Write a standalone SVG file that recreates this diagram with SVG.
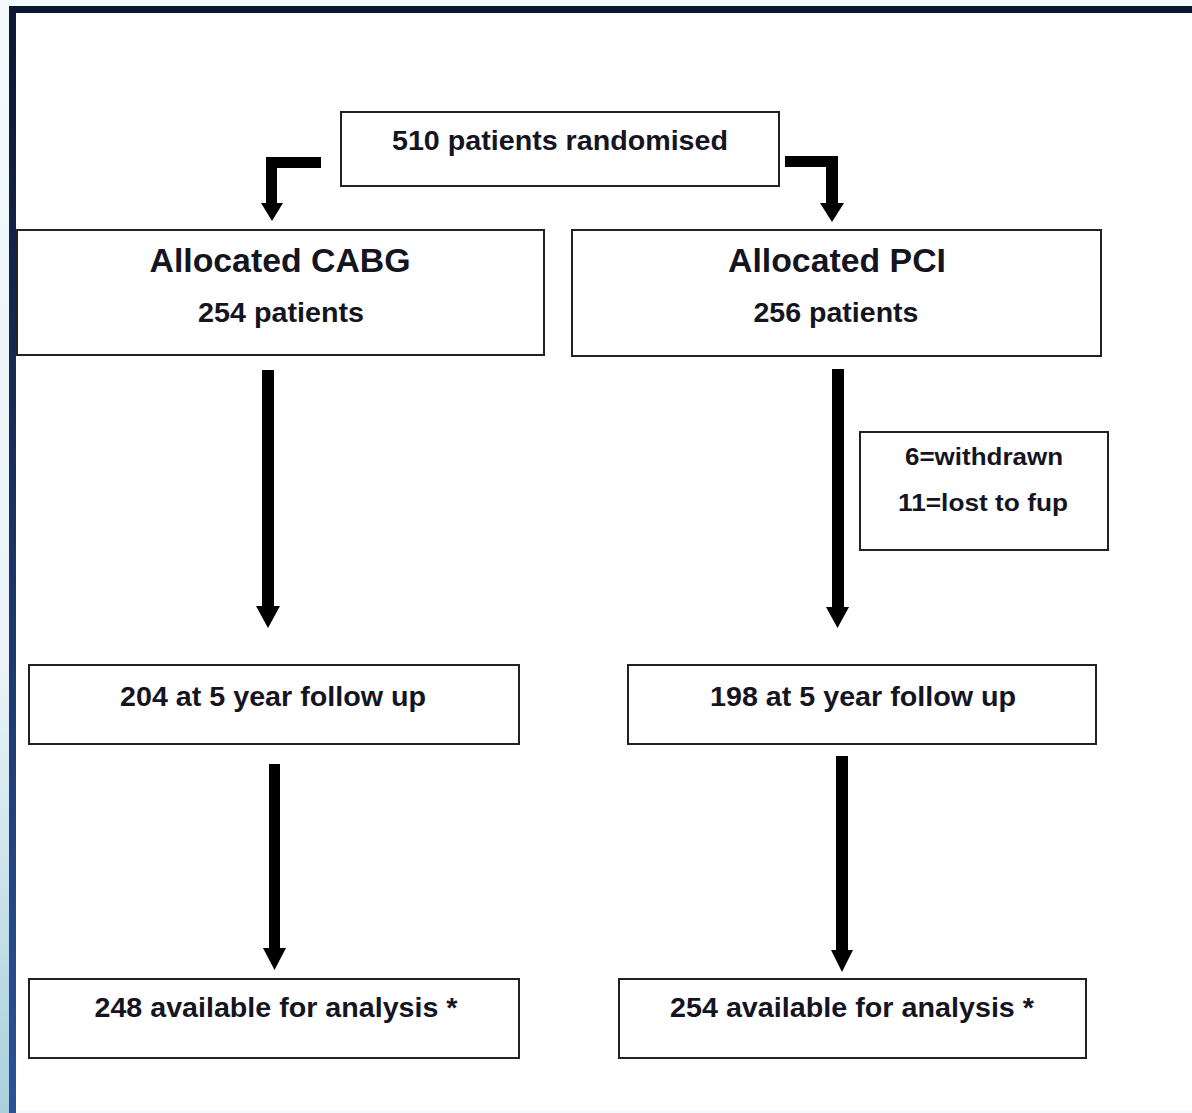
<svg xmlns="http://www.w3.org/2000/svg" width="1192" height="1113" viewBox="0 0 1192 1113">
  <defs>
    <linearGradient id="outerL" x1="0" y1="0" x2="0" y2="1">
      <stop offset="0" stop-color="#f4fafd"/>
      <stop offset="0.6" stop-color="#eaf3f8"/>
      <stop offset="1" stop-color="#a9d0dc"/>
    </linearGradient>
    <linearGradient id="edgeL" x1="0" y1="0" x2="0" y2="1">
      <stop offset="0" stop-color="#0b1733"/>
      <stop offset="0.5" stop-color="#1a3466"/>
      <stop offset="1" stop-color="#2b5299"/>
    </linearGradient>
  </defs>
  <style>
    .box { fill: #ffffff; stroke: #222222; stroke-width: 2; }
    .t { font-family: "Liberation Sans", Arial, sans-serif; font-weight: bold; fill: #15151f; text-anchor: middle; }
    .arrow { fill: #000000; stroke: none; }
  </style>

  <!-- background / frame -->
  <rect x="0" y="0" width="1192" height="1113" fill="#f4fafd"/>
  <rect x="0" y="0" width="10" height="1113" fill="url(#outerL)"/>
  <rect x="16" y="13" width="1176" height="1097" fill="#ffffff"/>
  <rect x="9" y="6" width="1183" height="7" fill="#0b1733"/>
  <rect x="9" y="6" width="7" height="1107" fill="url(#edgeL)"/>

  <g id="connectors">
    <path class="arrow" d="M321 157 L266 157 L266 203 L261 203 L272 221 L283 203 L277 203 L277 168 L321 168 Z"/>
    <path class="arrow" d="M785 156 L838 156 L838 203 L844 203 L832 222 L820 203 L826 203 L826 167 L785 167 Z"/>
    <path class="arrow" d="M262 370 L274 370 L274 606 L280 606 L268 628 L256 606 L262 606 Z"/>
    <path class="arrow" d="M832 369 L844 369 L844 607 L849 607 L837.5 628 L826 607 L832 607 Z"/>
    <path class="arrow" d="M269 764 L280 764 L280 948 L286 948 L274.5 970 L263 948 L269 948 Z"/>
    <path class="arrow" d="M836 756 L848 756 L848 950 L853 950 L842 972 L831 950 L836 950 Z"/>
  </g>

  <g id="randomised">
    <rect class="box" x="341" y="112" width="438" height="74"/>
    <text class="t" x="560" y="150" font-size="28" textLength="336" lengthAdjust="spacingAndGlyphs">510 patients randomised</text>
  </g>

  <g id="cabg">
    <rect class="box" x="17" y="230" width="527" height="125"/>
    <text class="t" x="280" y="272" font-size="33" textLength="261" lengthAdjust="spacingAndGlyphs">Allocated CABG</text>
    <text class="t" x="281" y="322" font-size="27" textLength="166" lengthAdjust="spacingAndGlyphs">254 patients</text>
  </g>

  <g id="pci">
    <rect class="box" x="572" y="230" width="529" height="126"/>
    <text class="t" x="837" y="272" font-size="33" textLength="218" lengthAdjust="spacingAndGlyphs">Allocated PCI</text>
    <text class="t" x="836" y="322" font-size="27" textLength="165" lengthAdjust="spacingAndGlyphs">256 patients</text>
  </g>

  <g id="withdrawn">
    <rect class="box" x="860" y="432" width="248" height="118"/>
    <text class="t" x="984" y="465" font-size="24" textLength="158" lengthAdjust="spacingAndGlyphs">6=withdrawn</text>
    <text class="t" x="983" y="511" font-size="24" textLength="170" lengthAdjust="spacingAndGlyphs">11=lost to fup</text>
  </g>

  <g id="cabg-fu">
    <rect class="box" x="29" y="665" width="490" height="79"/>
    <text class="t" x="273" y="706" font-size="28" textLength="306" lengthAdjust="spacingAndGlyphs">204 at 5 year follow up</text>
  </g>

  <g id="pci-fu">
    <rect class="box" x="628" y="665" width="468" height="79"/>
    <text class="t" x="863" y="706" font-size="28" textLength="306" lengthAdjust="spacingAndGlyphs">198 at 5 year follow up</text>
  </g>

  <g id="cabg-analysis">
    <rect class="box" x="29" y="979" width="490" height="79"/>
    <text class="t" x="276" y="1017" font-size="28" textLength="363" lengthAdjust="spacingAndGlyphs">248 available for analysis *</text>
  </g>

  <g id="pci-analysis">
    <rect class="box" x="619" y="979" width="467" height="79"/>
    <text class="t" x="852" y="1017" font-size="28" textLength="364" lengthAdjust="spacingAndGlyphs">254 available for analysis *</text>
  </g>
</svg>
